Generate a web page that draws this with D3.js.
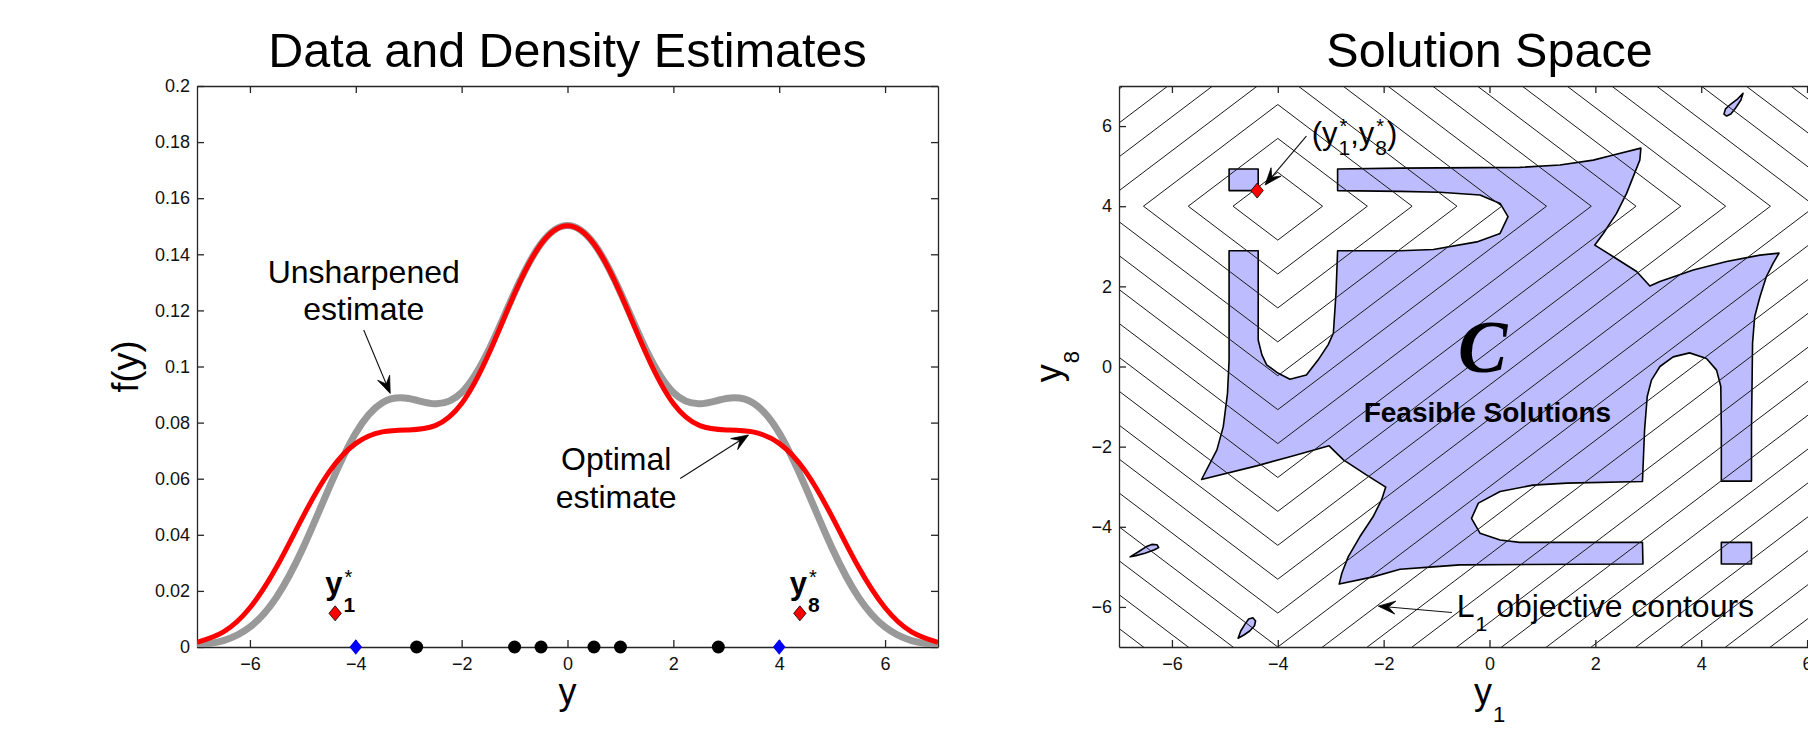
<!DOCTYPE html>
<html>
<head>
<meta charset="utf-8">
<script src="https://cdn.jsdelivr.net/npm/d3@7"></script>
<style>
  html, body { margin: 0; padding: 0; background: #ffffff; }
  svg { display: block; }
</style>
</head>
<body>
<svg id="chart" width="1808" height="730"></svg>
<script>
// ---------------- DATA ----------------
// Left panel: density estimates sampled along y
const densityX = [-7,-6.5,-6,-5.5,-5,-4.5,-4,-3.5,-3,-2.5,-2,-1.5,-1,-0.5,0,0.5,1,1.5,2,2.5,3,3.5,4,4.5,5,5.5,6,6.5,7];
const unsharpenedDensity = [0.0006,0.0023,0.0071,0.0177,0.0352,0.0569,0.0763,0.0871,0.0886,0.0867,0.0907,0.1054,0.1264,0.1438,0.1503,0.1438,0.1264,0.1054,0.0907,0.0867,0.0886,0.0871,0.0763,0.0569,0.0352,0.0177,0.0071,0.0023,0.0006];
const optimalDensity = [0.0017,0.0054,0.0140,0.0284,0.0464,0.0625,0.0726,0.0767,0.0774,0.0789,0.0868,0.1040,0.1260,0.1437,0.1502,0.1437,0.1260,0.1040,0.0868,0.0789,0.0774,0.0767,0.0726,0.0625,0.0464,0.0284,0.0140,0.0054,0.0017];
// observations
const innerObservations = [-2.85,-1,-0.5,0.5,1,2.85];
const extremeObservations = [-4, 4];          // y1, y8 (blue)
const sharpenedExtremes = [-4.39, 4.39];      // y1*, y8* (red)
const sharpenedMarkerLevel = 0.012;
const sharpenedNames = ["1", "8"];

const densityYTicks = [0,0.02,0.04,0.06,0.08,0.1,0.12,0.14,0.16,0.18,0.2];
const densityYTickLabels = ["0","0.02","0.04","0.06","0.08","0.1","0.12","0.14","0.16","0.18","0.2"];
const coordTicks = [-6,-4,-2,0,2,4,6];
const coordTickLabels = ["\u22126","\u22124","\u22122","0","2","4","6"];

// Right panel: L1 objective contours centred at (y1, y8) = (-4, 4)
const contourCenter = [-4, 4];
const contourLevels = [0.846,1.692,2.538,3.385,4.231,5.077,5.923,6.769,7.615,8.462,9.308,10.154,11.0,11.846,12.692,13.538,14.385,15.231,16.077,16.923,17.769,18.615,19.462,20.308,21.154];
const optimumPoint = [-4.39, 4.39];

// Feasible region C (y1, y8)
const feasibleMain = [
  [-2.87,4.93],[-1.69,4.95],[0.57,4.97],[1.33,5.03],[1.96,5.15],[2.34,5.28],[2.86,5.45],
  [2.84,5.15],[2.74,4.82],[2.59,4.32],[2.40,3.82],[2.15,3.32],[1.99,3.03],
  [2.34,2.74],[2.78,2.37],[3.03,2.01],
  [3.22,2.12],[3.85,2.41],[4.48,2.62],[5.11,2.78],[5.47,2.83],
  [5.36,2.58],[5.23,2.24],[5.11,1.74],[5.01,1.24],[4.97,0.58],[4.95,-1.58],[4.95,-2.86],
  [4.38,-2.86],[4.38,-1.58],[4.37,-0.50],[4.29,-0.09],[4.10,0.20],[3.78,0.34],[3.47,0.24],[3.22,0.00],[3.06,-0.34],[2.98,-0.75],[2.93,-1.58],[2.89,-2.87],
  [1.46,-2.91],[0.82,-2.96],[0.20,-3.12],[-0.21,-3.41],[-0.34,-3.79],[-0.18,-4.16],[0.20,-4.33],[0.57,-4.39],[2.89,-4.39],
  [2.90,-4.93],[-0.56,-4.95],[-1.07,-5.00],[-1.69,-5.06],[-2.20,-5.25],[-2.84,-5.43],
  [-2.79,-5.16],[-2.67,-4.75],[-2.45,-4.25],[-2.20,-3.75],[-2.04,-3.33],[-1.96,-3.01],
  [-2.32,-2.71],[-2.76,-2.33],[-3.03,-1.98],
  [-3.77,-2.25],[-4.40,-2.48],[-5.44,-2.82],
  [-5.15,-2.08],[-5.03,-1.50],[-4.95,-0.67],[-4.92,0.16],[-4.92,2.89],
  [-4.37,2.89],[-4.37,0.66],[-4.30,0.29],[-4.21,0.04],[-3.99,-0.17],[-3.77,-0.32],[-3.46,-0.21],[-3.24,0.16],[-3.05,0.54],[-2.95,0.83],[-2.90,1.83],[-2.87,2.89],
  [-1.69,2.89],[-1.06,2.92],[-0.24,3.11],[0.20,3.32],[0.35,3.74],[0.20,4.07],[-0.18,4.28],[-0.94,4.35],[-1.69,4.37],[-2.87,4.39]
];
const feasibleSquares = [
  [[-4.92,4.39],[-4.37,4.39],[-4.37,4.93],[-4.92,4.93]],
  [[4.38,-4.93],[4.95,-4.93],[4.95,-4.39],[4.38,-4.39]]
];
const feasibleBlobs = [
  [[4.79,6.82],[4.69,6.68],[4.56,6.55],[4.46,6.43],[4.43,6.30],[4.48,6.25],[4.56,6.30],[4.65,6.45],[4.75,6.65]],
  [[-6.79,-4.75],[-6.64,-4.63],[-6.49,-4.50],[-6.38,-4.44],[-6.28,-4.45],[-6.25,-4.52],[-6.34,-4.58],[-6.51,-4.66],[-6.68,-4.72]],
  [[-4.75,-6.78],[-4.70,-6.60],[-4.62,-6.43],[-4.55,-6.30],[-4.47,-6.27],[-4.42,-6.35],[-4.44,-6.47],[-4.53,-6.60],[-4.64,-6.70]]
];

// ---------------- DRAWING ----------------
const FONT = "'Liberation Sans', Arial, Helvetica, sans-serif";
const SERIF = "'Liberation Serif', 'Times New Roman', serif";
const svg = d3.select("#chart");

const xDen = d3.scaleLinear().domain([-7, 7]).range([197, 938]);
const yDen = d3.scaleLinear().domain([0, 0.2]).range([647, 86]);
const xSol = d3.scaleLinear().domain([-7, 7]).range([1119, 1860]);
const ySol = d3.scaleLinear().domain([-7, 7]).range([647, 86]);

const defs = svg.append("defs");
function addClip(id, x, y) {
  defs.append("clipPath").attr("id", id).append("rect")
    .attr("x", x.range()[0]).attr("y", y.range()[1])
    .attr("width", x.range()[1] - x.range()[0]).attr("height", y.range()[0] - y.range()[1]);
}
addClip("clipL", xDen, yDen);
addClip("clipR", xSol, ySol);

function drawFrame(x, y, xt, xtl, yt, ytl) {
  const [xa, xb] = x.range(), [yb, ya] = y.range();
  const style = g => {
    g.attr("font-family", FONT).attr("font-size", 18);
    g.selectAll(".domain, .tick line").attr("stroke", "#262626").attr("stroke-width", 1.3);
    g.selectAll(".tick text").attr("fill", "#111");
  };
  svg.append("g").attr("transform", `translate(0,${yb})`)
    .call(d3.axisBottom(x).tickValues(xt).tickFormat((d, i) => xtl[i]).tickSizeInner(-7).tickSizeOuter(0).tickPadding(10)).call(style);
  svg.append("g").attr("transform", `translate(0,${ya})`)
    .call(d3.axisTop(x).tickValues(xt).tickFormat("").tickSizeInner(-7).tickSizeOuter(0)).call(style);
  svg.append("g").attr("transform", `translate(${xa},0)`)
    .call(d3.axisLeft(y).tickValues(yt).tickFormat((d, i) => ytl[i]).tickSizeInner(-7).tickSizeOuter(0).tickPadding(7)).call(style);
  svg.append("g").attr("transform", `translate(${xb},0)`)
    .call(d3.axisRight(y).tickValues(yt).tickFormat("").tickSizeInner(-7).tickSizeOuter(0)).call(style);
}

// rich text (sub/superscripts) built from measured segments
function richText(parent, x, y, segs, opts = {}) {
  const outer = parent.append("g").attr("transform", `translate(${x},${y})` + (opts.rotate ? ` rotate(${opts.rotate})` : ""));
  const g = outer.append("g");
  let cursor = 0, lastStart = 0, lastEnd = 0;
  segs.forEach(s => {
    const t = g.append("text").text(s.t)
      .attr("font-family", s.family || FONT).attr("font-size", s.size)
      .attr("font-weight", s.weight || "normal").attr("font-style", s.style || "normal")
      .attr("fill", "#000").attr("y", s.dy || 0);
    const w = t.node().getComputedTextLength();
    const start = (s.stack ? lastStart : cursor) + (s.dx || 0);
    t.attr("x", start);
    const end = start + w;
    if (s.stack) { cursor = Math.max(lastEnd, end); }
    else { lastStart = start; cursor = end; }
    lastEnd = Math.max(cursor, end);
  });
  if (opts.anchor === "middle") g.attr("transform", `translate(${-cursor / 2},0)`);
  return outer;
}

function arrow(parent, p0, p1) {
  const dx = p1[0] - p0[0], dy = p1[1] - p0[1], len = Math.hypot(dx, dy);
  const ux = dx / len, uy = dy / len, nx = -uy, ny = ux;
  const L = 17, W = 6.5, back = 0.6;
  parent.append("line").attr("x1", p0[0]).attr("y1", p0[1])
    .attr("x2", p1[0] - ux * L * back).attr("y2", p1[1] - uy * L * back)
    .attr("stroke", "#111").attr("stroke-width", 1.1);
  const b1 = [p1[0] - ux * L + nx * W, p1[1] - uy * L + ny * W];
  const b2 = [p1[0] - ux * L - nx * W, p1[1] - uy * L - ny * W];
  const m = [p1[0] - ux * L * back, p1[1] - uy * L * back];
  parent.append("path").attr("d", `M${p1[0]},${p1[1]}L${b1[0]},${b1[1]}L${m[0]},${m[1]}L${b2[0]},${b2[1]}Z`)
    .attr("fill", "#000").attr("stroke", "#000").attr("stroke-width", 0.8).attr("stroke-linejoin", "miter");
}

function diamondPath(cx, cy, hw, hh) {
  return `M${cx},${cy - hh}L${cx + hw},${cy}L${cx},${cy + hh}L${cx - hw},${cy}Z`;
}

// ===== LEFT PANEL =====
drawFrame(xDen, yDen, coordTicks, coordTickLabels, densityYTicks, densityYTickLabels);

svg.append("text").attr("x", (xDen.range()[0] + xDen.range()[1]) / 2).attr("y", 67)
  .attr("text-anchor", "middle").attr("font-family", FONT).attr("font-size", 48.5)
  .text("Data and Density Estimates");
svg.append("text").attr("x", xDen(0)).attr("y", 704).attr("text-anchor", "middle")
  .attr("font-family", FONT).attr("font-size", 36).text("y");
svg.append("text").attr("transform", `translate(138,${yDen(0.1)}) rotate(-90)`).attr("text-anchor", "middle")
  .attr("font-family", FONT).attr("font-size", 36).text("f(y)");

const curveG = svg.append("g").attr("clip-path", "url(#clipL)");
const densLine = d3.line().x((d, i) => xDen(densityX[i])).y(d => yDen(d)).curve(d3.curveNatural);
curveG.append("path").attr("d", densLine(unsharpenedDensity)).attr("fill", "none")
  .attr("stroke", "#999999").attr("stroke-width", 7).attr("stroke-linejoin", "round");
curveG.append("path").attr("d", densLine(optimalDensity)).attr("fill", "none")
  .attr("stroke", "#ff0000").attr("stroke-width", 5).attr("stroke-linejoin", "round");

// observations on the axis
svg.append("g").selectAll("circle").data(innerObservations).join("circle")
  .attr("cx", d => xDen(d)).attr("cy", yDen(0)).attr("r", 6.5).attr("fill", "#000");
svg.append("g").selectAll("path").data(extremeObservations).join("path")
  .attr("d", d => diamondPath(xDen(d), yDen(0), 6.3, 7.8)).attr("fill", "#0000ff");
svg.append("g").selectAll("path").data(sharpenedExtremes).join("path")
  .attr("d", d => diamondPath(xDen(d), yDen(sharpenedMarkerLevel), 6.2, 7.5))
  .attr("fill", "#ff0000").attr("stroke", "#000").attr("stroke-width", 0.8);
sharpenedExtremes.forEach((v, i) => {
  richText(svg, xDen(v) - 10, yDen(sharpenedMarkerLevel) - 19, [
    { t: "y", size: 31, weight: "bold" },
    { t: sharpenedNames[i], size: 21, weight: "bold", dy: 18, dx: 1 },
    { t: "*", size: 20, dy: -10, dx: 1, stack: true }
  ]);
});

// annotations
const annG = svg.append("g");
[["Unsharpened", 0.1297], ["estimate", 0.1165]].forEach(([t, f]) =>
  annG.append("text").attr("x", xDen(-3.85)).attr("y", yDen(f)).attr("text-anchor", "middle")
    .attr("font-family", FONT).attr("font-size", 32).text(t));
arrow(annG, [xDen(-3.85), yDen(0.1130)], [xDen(-3.35), yDen(0.0904)]);
[["Optimal", 0.0631], ["estimate", 0.0497]].forEach(([t, f]) =>
  annG.append("text").attr("x", xDen(0.92)).attr("y", yDen(f)).attr("text-anchor", "middle")
    .attr("font-family", FONT).attr("font-size", 32).text(t));
arrow(annG, [xDen(2.13), yDen(0.0601)], [xDen(3.42), yDen(0.0756)]);

// ===== RIGHT PANEL =====
const solG = svg.append("g").attr("clip-path", "url(#clipR)");
const polyLine = d3.line().x(d => xSol(d[0])).y(d => ySol(d[1])).curve(d3.curveLinearClosed);
const regionStyle = sel => sel.attr("fill", "#bcbcff").attr("stroke", "#000").attr("stroke-width", 1.6).attr("stroke-linejoin", "round");
solG.append("path").attr("d", polyLine(feasibleMain)).call(regionStyle);
solG.selectAll("path.sq").data(feasibleSquares).join("path").attr("class", "sq").attr("d", d => polyLine(d)).call(regionStyle);
solG.selectAll("path.blob").data(feasibleBlobs).join("path").attr("class", "blob").attr("d", d => polyLine(d)).call(regionStyle);

const [ccx, ccy] = contourCenter;
solG.selectAll("path.contour").data(contourLevels).join("path").attr("class", "contour")
  .attr("d", c => polyLine([[ccx - c, ccy], [ccx, ccy + c], [ccx + c, ccy], [ccx, ccy - c]]))
  .attr("fill", "none").attr("stroke", "#1a1a1a").attr("stroke-width", 1);

drawFrame(xSol, ySol, coordTicks, coordTickLabels, coordTicks, coordTickLabels);

svg.append("path").attr("d", diamondPath(xSol(optimumPoint[0]), ySol(optimumPoint[1]), 6.2, 7.5))
  .attr("fill", "#ff0000").attr("stroke", "#000").attr("stroke-width", 0.8);

svg.append("text").attr("x", (xSol.range()[0] + xSol.range()[1]) / 2).attr("y", 67)
  .attr("text-anchor", "middle").attr("font-family", FONT).attr("font-size", 48.5).text("Solution Space");
richText(svg, xSol(0), 704, [{ t: "y", size: 36 }, { t: "1", size: 22, dy: 18, dx: 1 }], { anchor: "middle" });
richText(svg, 1061, ySol(0), [{ t: "y", size: 36 }, { t: "8", size: 22, dy: 18, dx: 1 }], { anchor: "middle", rotate: -90 });

richText(svg, xSol(-0.13), ySol(-0.14), [{ t: "C", size: 74, weight: "bold", style: "italic", family: SERIF }], { anchor: "middle" });
svg.append("text").attr("x", xSol(-0.04)).attr("y", ySol(-1.39)).attr("text-anchor", "middle")
  .attr("font-family", FONT).attr("font-size", 28).attr("font-weight", "bold").text("Feasible Solutions");

richText(svg, xSol(-3.36), ySol(5.56), [
  { t: "(y", size: 31 },
  { t: "1", size: 21, dy: 11, dx: 1 },
  { t: "*", size: 20, dy: -11, dx: 1, stack: true },
  { t: ",y", size: 31 },
  { t: "8", size: 21, dy: 11, dx: 1 },
  { t: "*", size: 20, dy: -11, dx: 1, stack: true },
  { t: ")", size: 31 }
]);
arrow(svg, [xSol(-3.46), ySol(5.75)], [xSol(-4.24), ySol(4.53)]);

richText(svg, xSol(-0.62), ySol(-6.26), [
  { t: "L", size: 32 },
  { t: "1", size: 21, dy: 14, dx: 1 },
  { t: "objective contours", size: 32, dx: 9 }
]);
arrow(svg, [xSol(-0.71), ySol(-6.14)], [xSol(-2.10), ySol(-5.98)]);
</script>
</body>
</html>
